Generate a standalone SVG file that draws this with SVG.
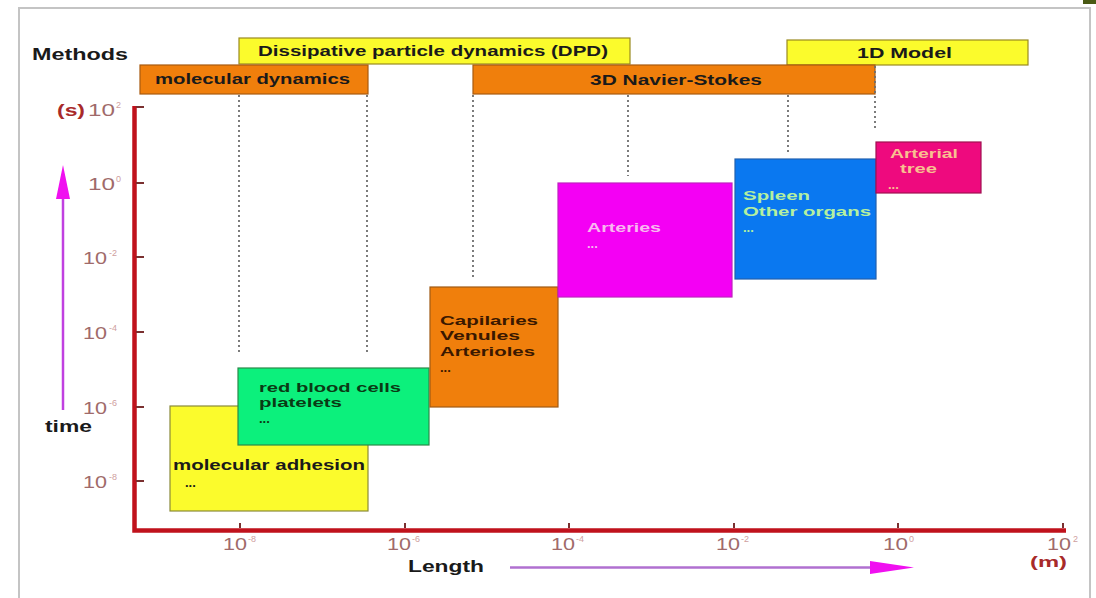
<svg xmlns="http://www.w3.org/2000/svg" width="1096" height="598" viewBox="0 0 1096 598">
  <defs>
    <style>
      text { font-family: "Liberation Sans", Arial, sans-serif; }
      .b { font-weight: bold; }
      .lab { font-size: 15px; font-weight: bold; fill: #1a1a1a; }
      .box { font-size: 13px; font-weight: bold; }
      .bar-y { fill: #fbfb2c; stroke: #9a8a20; stroke-width: 1.2; }
      .bar-o { fill: #f07f0c; stroke: #a85a10; stroke-width: 1.2; }
      .guide { stroke: #6e6e6e; stroke-width: 1.8; stroke-dasharray: 2 3; fill: none; }
      .axis { stroke: #c0121c; stroke-width: 4.5; fill: none; }
      .tick { stroke: #7a3030; stroke-width: 2; }
      .num { font-size: 16px; fill: #a06a6a; }
      .sup { font-size: 9px; fill: #cfa0a0; }
    </style>
  </defs>

  <rect width="1096" height="598" fill="#ffffff"/>

  <!-- page frame -->
  <g id="frame" fill="none" stroke="#c4c4c4" stroke-width="2">
    <path d="M19 598 V8 H1090 V598"/>
  </g>
  <rect x="1083" y="0" width="13" height="4" fill="#4a5a14"/>

  <!-- method bars -->
  <g id="methods-label">
    <text class="b" x="32" y="60" font-size="16" fill="#1a1a1a" textLength="96" lengthAdjust="spacingAndGlyphs">Methods</text>
  </g>
  <g id="dpd">
    <rect class="bar-y" x="239" y="38" width="391" height="26"/>
    <text class="lab" x="258" y="56" textLength="350" lengthAdjust="spacingAndGlyphs">Dissipative particle dynamics (DPD)</text>
  </g>
  <g id="one-d-model">
    <rect class="bar-y" x="787" y="40" width="241" height="25"/>
    <text class="lab" x="857" y="58" textLength="95" lengthAdjust="spacingAndGlyphs">1D Model</text>
  </g>
  <g id="molecular-dynamics">
    <rect class="bar-o" x="140" y="65" width="228" height="29"/>
    <text class="lab" x="155" y="84" fill="#3a1a00" textLength="195" lengthAdjust="spacingAndGlyphs">molecular dynamics</text>
  </g>
  <g id="navier-stokes">
    <rect class="bar-o" x="473" y="65" width="402" height="29"/>
    <text class="lab" x="590" y="85" fill="#3a1a00" textLength="172" lengthAdjust="spacingAndGlyphs">3D Navier-Stokes</text>
  </g>

  <!-- guide lines from method bars down to the scales they cover -->
  <g id="connectors">
    <line class="guide" x1="239" y1="95" x2="239" y2="353"/>
    <line class="guide" x1="367" y1="95" x2="367" y2="353"/>
    <line class="guide" x1="473" y1="95" x2="473" y2="278"/>
    <line class="guide" x1="628" y1="95" x2="628" y2="176"/>
    <line class="guide" x1="788" y1="95" x2="788" y2="153"/>
    <line class="guide" x1="875" y1="66" x2="875" y2="131"/>
  </g>

  <!-- axes -->
  <g id="axes">
    <path class="axis" d="M134.5 106 V530.5 H1066"/>
    <g class="tick">
      <line x1="136" y1="107" x2="144" y2="107"/>
      <line x1="136" y1="183" x2="144" y2="183"/>
      <line x1="136" y1="257" x2="144" y2="257"/>
      <line x1="136" y1="332" x2="144" y2="332"/>
      <line x1="136" y1="407" x2="144" y2="407"/>
      <line x1="136" y1="481" x2="144" y2="481"/>
      <line x1="240" y1="528" x2="240" y2="523"/>
      <line x1="405" y1="528" x2="405" y2="523"/>
      <line x1="569" y1="528" x2="569" y2="523"/>
      <line x1="734" y1="528" x2="734" y2="523"/>
      <line x1="898" y1="528" x2="898" y2="523"/>
      <line x1="1063" y1="528" x2="1063" y2="523"/>
    </g>

    <!-- time scale labels -->
    <text class="b" x="57" y="116" font-size="16" fill="#a82a2a" textLength="28" lengthAdjust="spacingAndGlyphs">(s)</text>
    <text class="num" x="115" y="116" text-anchor="end" textLength="27" lengthAdjust="spacingAndGlyphs">10</text>
    <text class="sup" x="116" y="108">2</text>
    <text class="num" x="115" y="190" text-anchor="end" textLength="27" lengthAdjust="spacingAndGlyphs">10</text>
    <text class="sup" x="116" y="182">0</text>
    <text class="num" x="107" y="264" text-anchor="end" textLength="24" lengthAdjust="spacingAndGlyphs">10</text>
    <text class="sup" x="109" y="256">-2</text>
    <text class="num" x="107" y="339" text-anchor="end" textLength="24" lengthAdjust="spacingAndGlyphs">10</text>
    <text class="sup" x="109" y="331">-4</text>
    <text class="num" x="107" y="414" text-anchor="end" textLength="24" lengthAdjust="spacingAndGlyphs">10</text>
    <text class="sup" x="109" y="406">-6</text>
    <text class="num" x="107" y="488" text-anchor="end" textLength="24" lengthAdjust="spacingAndGlyphs">10</text>
    <text class="sup" x="109" y="480">-8</text>

    <!-- length scale labels -->
    <text class="num" x="247" y="550" text-anchor="end" textLength="24" lengthAdjust="spacingAndGlyphs">10</text>
    <text class="sup" x="248" y="542">-8</text>
    <text class="num" x="411" y="550" text-anchor="end" textLength="24" lengthAdjust="spacingAndGlyphs">10</text>
    <text class="sup" x="412" y="542">-6</text>
    <text class="num" x="575" y="550" text-anchor="end" textLength="24" lengthAdjust="spacingAndGlyphs">10</text>
    <text class="sup" x="576" y="542">-4</text>
    <text class="num" x="740" y="550" text-anchor="end" textLength="24" lengthAdjust="spacingAndGlyphs">10</text>
    <text class="sup" x="741" y="542">-2</text>
    <text class="num" x="908" y="550" text-anchor="end" textLength="25" lengthAdjust="spacingAndGlyphs">10</text>
    <text class="sup" x="909" y="542">0</text>
    <text class="num" x="1071" y="550" text-anchor="end" textLength="24" lengthAdjust="spacingAndGlyphs">10</text>
    <text class="sup" x="1073" y="542">2</text>
    <text class="b" x="1030" y="567" font-size="15" fill="#a82a2a" textLength="37" lengthAdjust="spacingAndGlyphs">(m)</text>
  </g>

  <!-- direction arrows and axis names -->
  <g id="time-arrow">
    <line x1="63" y1="196" x2="63" y2="410" stroke="#c040e0" stroke-width="2.5"/>
    <polygon points="63,165 56,199 70,199" fill="#f010f0"/>
    <text class="b" x="45" y="432" font-size="16" fill="#1a1a1a" textLength="47" lengthAdjust="spacingAndGlyphs">time</text>
  </g>
  <g id="length-arrow">
    <line x1="510" y1="567.5" x2="875" y2="567.5" stroke="#b070d0" stroke-width="2.5"/>
    <polygon points="914,567.5 870,561 870,574" fill="#f010f0"/>
    <text class="b" x="408" y="572" font-size="16" fill="#1a1a1a" textLength="76" lengthAdjust="spacingAndGlyphs">Length</text>
  </g>

  <!-- scale boxes -->
  <g id="molecular-adhesion">
    <rect x="170" y="406" width="198" height="105" fill="#fbfb2c" stroke="#8a8a3a" stroke-width="1.2"/>
    <text class="lab" x="173" y="470" textLength="192" lengthAdjust="spacingAndGlyphs">molecular adhesion</text>
    <text class="box" x="185" y="487" font-size="11" fill="#1a1a1a">...</text>
  </g>
  <g id="blood-cells">
    <rect x="238" y="368" width="191" height="77" fill="#0cf07c" stroke="#2a8a4a" stroke-width="1.2"/>
    <text class="box" x="259" y="392" fill="#0a3a14" textLength="142" lengthAdjust="spacingAndGlyphs">red blood cells</text>
    <text class="box" x="259" y="407" fill="#0a3a14" textLength="83" lengthAdjust="spacingAndGlyphs">platelets</text>
    <text class="box" x="259" y="423" font-size="11" fill="#0a3a14">...</text>
  </g>
  <g id="capillaries">
    <rect x="430" y="287" width="128" height="120" fill="#f07f0c" stroke="#a05a14" stroke-width="1.2"/>
    <text class="box" x="440" y="325" fill="#3a1800" textLength="98" lengthAdjust="spacingAndGlyphs">Capilaries</text>
    <text class="box" x="440" y="340" fill="#3a1800" textLength="80" lengthAdjust="spacingAndGlyphs">Venules</text>
    <text class="box" x="440" y="356" fill="#3a1800" textLength="95" lengthAdjust="spacingAndGlyphs">Arterioles</text>
    <text class="box" x="440" y="372" font-size="11" fill="#3a1800">...</text>
  </g>
  <g id="arteries">
    <rect x="558" y="183" width="174" height="114" fill="#f400f4" stroke="#c020c0" stroke-width="1.2"/>
    <text class="box" x="587" y="232" fill="#f8b8f0" textLength="74" lengthAdjust="spacingAndGlyphs">Arteries</text>
    <text class="box" x="587" y="248" font-size="11" fill="#f8b8f0">...</text>
  </g>
  <g id="organs">
    <rect x="735" y="159" width="141" height="120" fill="#0a78f0" stroke="#2060b0" stroke-width="1.2"/>
    <text class="box" x="743" y="200" fill="#b4f0a0" textLength="67" lengthAdjust="spacingAndGlyphs">Spleen</text>
    <text class="box" x="743" y="216" fill="#b4f0a0" textLength="128" lengthAdjust="spacingAndGlyphs">Other organs</text>
    <text class="box" x="743" y="232" font-size="11" fill="#b4f0a0">...</text>
  </g>
  <g id="arterial-tree">
    <rect x="876" y="142" width="105" height="51" fill="#ee0a7e" stroke="#a01050" stroke-width="1.2"/>
    <text class="box" x="890" y="158" fill="#f8c090" textLength="68" lengthAdjust="spacingAndGlyphs">Arterial</text>
    <text class="box" x="900" y="173" fill="#f8c090" textLength="37" lengthAdjust="spacingAndGlyphs">tree</text>
    <text class="box" x="888" y="189" font-size="11" fill="#f8c090">...</text>
  </g>
</svg>
